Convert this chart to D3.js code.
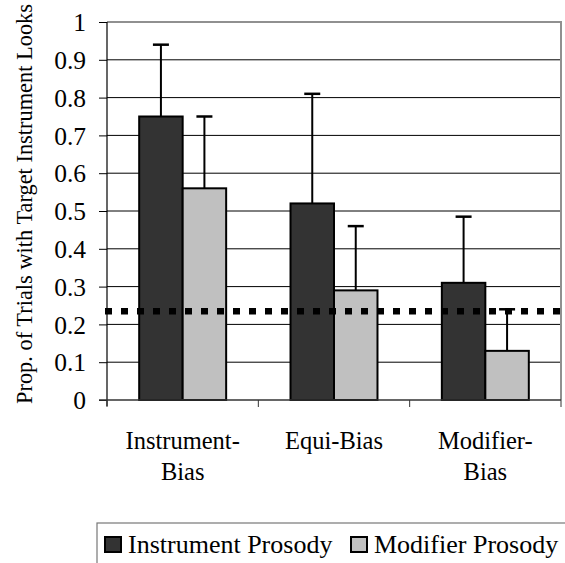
<!DOCTYPE html>
<html><head><meta charset="utf-8">
<script src="https://cdn.jsdelivr.net/npm/d3@7"></script>
<style>body{margin:0;background:#fff}svg{display:block}</style>
</head><body><div id="c"></div>
<script>
const categories = [["Instrument-","Bias"],["Equi-Bias"],["Modifier-","Bias"]];
const seriesNames = ["Instrument Prosody","Modifier Prosody"];
const instrumentVals = [0.75, 0.52, 0.31];
const instrumentErr = [0.19, 0.29, 0.175];
const modifierVals = [0.56, 0.29, 0.13];
const modifierErr = [0.19, 0.17, 0.11];
const chanceLevel = 0.235;
const yTicks = [0,0.1,0.2,0.3,0.4,0.5,0.6,0.7,0.8,0.9,1];
const colors = ["#333333","#c0c0c0"];

const W=565,H=563,FF="'Liberation Serif', 'Times New Roman', serif";
const svg=d3.select("#c").append("svg").attr("width",W).attr("height",H);
const L=107,R=561,T=22,B=400;
const x=d3.scaleBand().domain(d3.range(categories.length)).range([L,R]).paddingInner(0).paddingOuter(0);
const y=d3.scaleLinear().domain([0,1]).range([B,T]);
const inner=d3.scaleBand().domain([0,1]).range([0,x.bandwidth()]).paddingOuter(0.74).paddingInner(0);
const txt=(sel,fs)=>sel.style("font-family",FF).style("font-size",fs+"px").attr("fill","#000");

// gridlines
svg.append("g").selectAll("line").data(yTicks.filter(d=>d>0&&d<1)).join("line")
 .attr("x1",L).attr("x2",R).attr("y1",d=>y(d)).attr("y2",d=>y(d)).attr("stroke","#000").attr("stroke-width",1);
// plot border top/right
svg.append("path").attr("d",`M${L},${y(1)}H${R}V${B}`).attr("fill","none").attr("stroke","#909090").attr("stroke-width",2);

const vals=[instrumentVals,modifierVals], errs=[instrumentErr,modifierErr];
// error bars
vals.forEach((vs,s)=>{
  const g=svg.append("g");
  vs.forEach((v,i)=>{
    const cx=x(i)+inner(s)+inner.bandwidth()/2;
    g.append("line").attr("x1",cx).attr("x2",cx).attr("y1",y(v)).attr("y2",y(v+errs[s][i])).attr("stroke","#000").attr("stroke-width",2);
    g.append("line").attr("x1",cx-8).attr("x2",cx+8).attr("y1",y(v+errs[s][i])).attr("y2",y(v+errs[s][i])).attr("stroke","#000").attr("stroke-width",2.5);
  });
});
// bars
vals.forEach((vs,s)=>{
  svg.append("g").selectAll("rect").data(vs).join("rect")
   .attr("x",(d,i)=>x(i)+inner(s)).attr("width",inner.bandwidth())
   .attr("y",d=>y(d)).attr("height",d=>B-y(d))
   .attr("fill",colors[s]).attr("stroke","#000").attr("stroke-width",2);
});
// chance line
svg.append("line").attr("x1",L-2).attr("x2",R).attr("y1",y(chanceLevel)).attr("y2",y(chanceLevel))
 .attr("stroke","#000").attr("stroke-width",6.5).attr("stroke-dasharray","7,9");

// y axis
const ya=svg.append("g").attr("transform",`translate(${L},0)`).call(d3.axisLeft(y).tickValues(yTicks).tickFormat(d=>d===0?"0":d===1?"1":d3.format(".1f")(d)).tickSize(8).tickPadding(13));
ya.attr("font-family",null).attr("font-size",null);
ya.select(".domain").attr("stroke","#000").attr("stroke-width",1.2).attr("d",`M0,${T}V${B+6}`);
ya.selectAll("text").call(txt,25.5).attr("dy","0.34em");
ya.selectAll("line").attr("stroke","#000");
// x axis
svg.append("line").attr("x1",L-8).attr("x2",R).attr("y1",B).attr("y2",B).attr("stroke","#333").attr("stroke-width",1.5);
svg.append("g").selectAll("line").data(d3.range(categories.length+1)).join("line")
 .attr("x1",d=>L+d*x.bandwidth()).attr("x2",d=>L+d*x.bandwidth()).attr("y1",B).attr("y2",B+7).attr("stroke","#333").attr("stroke-width",1);
categories.forEach((c,i)=>{
  const t=svg.append("text").attr("x",x(i)+x.bandwidth()/2).attr("y",449).attr("text-anchor","middle").call(txt,24.5);
  c.forEach((ln,j)=>t.append("tspan").attr("x",x(i)+x.bandwidth()/2).attr("dy",j?31:0).text(ln));
});
// y title
svg.append("text").attr("transform",`translate(32,${204}) rotate(-90)`).attr("text-anchor","middle").call(txt,22.4)
 .text("Prop. of Trials with Target Instrument Looks");

// legend
svg.append("rect").attr("x",97).attr("y",523).attr("width",470).attr("height",45).attr("fill","#fff").attr("stroke","#777").attr("stroke-width",1.2);
const lx=[105,351];
seriesNames.forEach((n,s)=>{
  svg.append("rect").attr("x",lx[s]).attr("y",537).attr("width",16).attr("height",15).attr("fill",colors[s]).attr("stroke","#000").attr("stroke-width",2);
  svg.append("text").attr("x",lx[s]+23).attr("y",553).call(txt,26).text(n);
});
</script></body></html>
